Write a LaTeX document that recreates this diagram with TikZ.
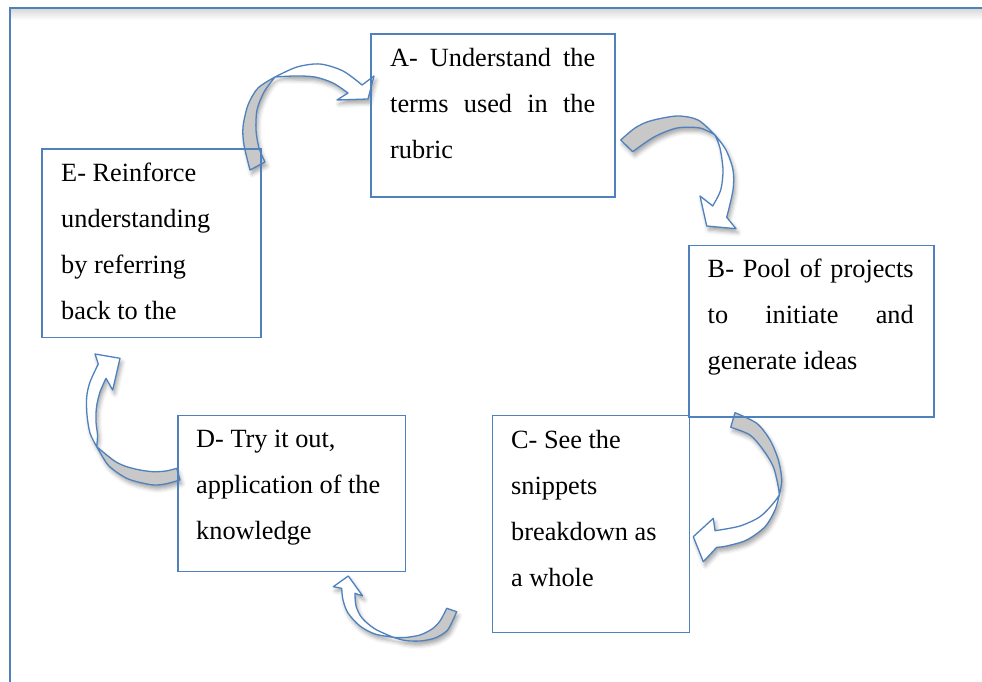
\documentclass[tikz,border=0pt]{standalone}
\usepackage{fontspec}
\setmainfont{Liberation Serif}
\usetikzlibrary{shadows.blur}
\definecolor{lineblue}{RGB}{79,129,189}
\definecolor{backgrey}{RGB}{200,200,200}

\begin{document}
\begin{tikzpicture}[x=1pt,y=-1pt,
  box/.style={draw=lineblue, line width=1.8pt, rectangle, inner sep=0pt, anchor=north west},
  txt/.style={inner sep=0pt, anchor=base west, text width=#1, align=justify,
              font=\fontsize{26.3}{46}\selectfont},
  bandback/.style={fill=backgrey, draw=lineblue, line width=1.3pt, line join=round},
  bandfront/.style={fill=white, draw=lineblue, line width=1.3pt, line join=round},
  arrowshadow/.style={fill=white, blur shadow={shadow xshift=2pt, shadow yshift=-4pt,
              shadow blur radius=4pt, shadow opacity=35}},
]
\useasboundingbox (0,0) rectangle (982,682);

% page frame with its soft inner shade
\shade[top color=black!14, bottom color=white] (10.5,9.5) rectangle (982,20);
\draw[lineblue, line width=2pt] (9.5,682) -- (9.5,8.5) -- (982,8.5);

% ---------- curved arrows ----------
% E -> A
\fill[arrowshadow] plot[smooth] coordinates {(250,170) (244,145) (243,127) (248,105) (258,88) (275,77) (297,67) (320,64) (343,71) (362,85)}
  -- (374,76) -- (368,99) -- (337,100)
  -- plot[smooth] coordinates {(348,93) (333,83) (315,77) (295,76) (275,77) (264,92) (257,110) (256,130) (259,148) (265,162)} -- cycle;
\draw[bandback] plot[smooth] coordinates {(250,170) (244,145) (243,127) (248,105) (258,88) (275,77)}
  -- plot[smooth] coordinates {(275,77) (264,92) (257,110) (256,130) (259,148) (265,162)} -- cycle;
\draw[bandfront] plot[smooth] coordinates {(275,77) (297,67) (320,64) (343,71) (362,85)}
  -- (374,76) -- (368,99) -- (337,100)
  -- plot[smooth] coordinates {(348,93) (333,83) (315,77) (295,76) (275,77)} -- cycle;

% A -> B
\fill[arrowshadow] plot[smooth] coordinates {(620.7,140) (635,128) (650,121) (677,116) (698,120) (715,135) (726,150) (733,170) (733,190) (726.7,217.3)}
  -- (736,228.7) -- (706.7,226) -- (700,196)
  -- plot[smooth] coordinates {(712.7,206) (720.7,190) (723,170) (720,148) (715,135) (700,128) (677,128) (654,137) (632.7,151.7)} -- cycle;
\draw[bandback] plot[smooth] coordinates {(620.7,140) (635,128) (650,121) (677,116) (698,120) (715,135)}
  -- plot[smooth] coordinates {(715,135) (700,128) (677,128) (654,137) (632.7,151.7)} -- cycle;
\draw[bandfront] plot[smooth] coordinates {(715,135) (726,150) (733,170) (733,190) (726.7,217.3)}
  -- (736,228.7) -- (706.7,226) -- (700,196)
  -- plot[smooth] coordinates {(712.7,206) (720.7,190) (723,170) (720,148) (715,135)} -- cycle;

% B -> C
\fill[arrowshadow] plot[smooth] coordinates {(735,412.7) (756.7,423.3) (770,440) (778.3,460) (781.7,480) (779.3,495) (775,510) (765,526.7) (746.7,540) (726.7,546) (716.7,547.3)}
  -- (703.3,561.7) -- (693.3,536.7) -- (713.3,518.3)
  -- plot[smooth] coordinates {(715,530.7) (720,530) (740,526) (760,516.7) (773.3,503.3) (779.3,495) (778.3,486.7) (773.3,466.7) (763.3,450) (750,435) (730.7,427.3)} -- cycle;
\draw[bandback] plot[smooth] coordinates {(735,412.7) (756.7,423.3) (770,440) (778.3,460) (781.7,480) (779.3,495)}
  -- plot[smooth] coordinates {(779.3,495) (778.3,486.7) (773.3,466.7) (763.3,450) (750,435) (730.7,427.3)} -- cycle;
\draw[bandfront] plot[smooth] coordinates {(779.3,495) (775,510) (765,526.7) (746.7,540) (726.7,546) (716.7,547.3)}
  -- (703.3,561.7) -- (693.3,536.7) -- (713.3,518.3)
  -- plot[smooth] coordinates {(715,530.7) (740,526) (760,516.7) (773.3,503.3) (779.3,495)} -- cycle;

% C -> D
\fill[arrowshadow] plot[smooth] coordinates {(456.7,611.7) (452,622) (446.7,631) (435,638) (420,641) (405,640.5) (393.3,637.3) (375,634) (360,626) (348,613) (343,600) (341.7,588.3)}
  -- (333.3,586.7) -- (348.3,576) -- (362.7,596)
  -- plot[smooth] coordinates {(355,593.3) (356,606) (362,618) (375,629) (393.3,637.3) (405,637.5) (420,635) (432,629) (440,621) (446.7,608.3)} -- cycle;
\draw[bandback] plot[smooth] coordinates {(456.7,611.7) (452,622) (446.7,631) (435,638) (420,641) (405,640.5) (393.3,637.3)}
  -- plot[smooth] coordinates {(393.3,637.3) (405,637.5) (420,635) (432,629) (440,621) (446.7,608.3)} -- cycle;
\draw[bandfront] plot[smooth] coordinates {(393.3,637.3) (375,634) (360,626) (348,613) (343,600) (341.7,588.3)}
  -- (333.3,586.7) -- (348.3,576) -- (362.7,596)
  -- plot[smooth] coordinates {(355,593.3) (356,606) (362,618) (375,629) (393.3,637.3)} -- cycle;

% D -> E
\fill[arrowshadow] plot[smooth] coordinates {(180,480) (165,484) (153.3,485) (138,482) (126.7,478.3) (115,471) (106.7,463.3) (96.7,446.7) (90,433) (87,415) (86.7,397) (90,382) (98.3,364)}
  -- (95,354) -- (120,358.3) -- (112.7,390)
  -- plot[smooth] coordinates {(106,378.3) (100,392) (96.5,407) (96,422) (97.5,435) (96.7,446.7) (106.7,455) (116,462) (126.7,466.7) (140,470) (153.3,471.7) (166,471) (176.7,468.3)} -- cycle;
\draw[bandback] plot[smooth] coordinates {(180,480) (165,484) (153.3,485) (138,482) (126.7,478.3) (115,471) (106.7,463.3) (96.7,446.7)}
  -- plot[smooth] coordinates {(96.7,446.7) (106.7,455) (116,462) (126.7,466.7) (140,470) (153.3,471.7) (166,471) (176.7,468.3)} -- cycle;
\draw[bandfront] plot[smooth] coordinates {(96.7,446.7) (90,433) (87,415) (86.7,397) (90,382) (98.3,364)}
  -- (95,354) -- (120,358.3) -- (112.7,390)
  -- plot[smooth] coordinates {(106,378.3) (100,392) (96.5,407) (96,422) (97.5,435) (96.7,446.7)} -- cycle;

% ---------- boxes ----------
\node[box, minimum width=244pt, minimum height=163pt]   (A) at (370,33)    {};
\node[box, minimum width=245pt, minimum height=171.5pt] (B) at (688,244.5) {};
\node[box, minimum width=197pt, minimum height=217pt]   (C) at (491.5,414.5) {};
\node[box, minimum width=227.5pt, minimum height=156pt] (D) at (177,414.5) {};
\node[box, minimum width=219pt, minimum height=188.5pt] (E) at (41,148)    {};

% ---------- texts ----------
\node[txt=205pt] (Atext) at (390,66.7)
  {\makebox[205pt][s]{A- Understand the}\\ \makebox[205pt][s]{terms used in the}\\ rubric};
\node[txt=206pt] (Btext) at (707.5,277.3)
  {\makebox[206pt][s]{B- Pool of projects}\\ \makebox[206pt][s]{to initiate and}\\ generate ideas};
\node[txt=170pt] (Ctext) at (511,448.3)
  {C- See the\\ snippets\\ breakdown as\\ a whole};
\node[txt=200pt] (Dtext) at (196,447.3)
  {D- Try it out,\\ application of the\\ knowledge};
\node[txt=190pt] (Etext) at (61,181)
  {E- Reinforce\\ understanding\\ by referring\\ back to the};
\end{tikzpicture}
\end{document}
